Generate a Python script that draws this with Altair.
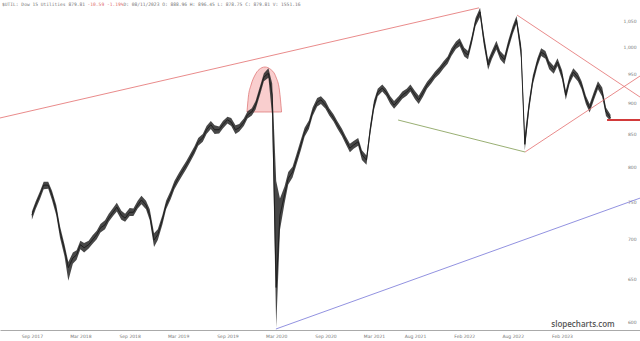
import altair as alt
import pandas as pd

# ---- price series (semi-monthly readings: close, high, low) ----
start_date = "2017-09-01"
close = [
    732, 746, 760, 774, 774, 760, 739, 710, 686, 664,
    676, 680, 693, 689, 693, 699, 706, 715, 719, 728,
    736, 743, 732, 728, 736, 736, 746, 753, 746, 732,
    699, 706, 726, 746, 760, 774, 784, 793, 804, 814,
    826, 839, 845, 858, 866, 858, 858, 866, 874, 870,
    858, 861, 870, 882, 887, 898, 924, 946, 953, 915,
    640, 732, 760, 784, 793, 811, 834, 854, 866, 887,
    903, 907, 898, 887, 877, 866, 854, 842, 829, 834,
    839, 819, 811, 858, 898, 920, 927, 920, 907, 898,
    907, 915, 920, 927, 915, 907, 920, 932, 941, 950,
    959, 968, 977, 991, 1004, 1010, 991, 986, 1014, 1048,
    1068, 1014, 968, 986, 1004, 986, 977, 1004, 1033, 1052,
    995, 835, 898, 941, 973, 991, 986, 968, 959, 973,
    950, 915, 941, 955, 946, 932, 907, 893, 915, 932,
    920, 887, 877,
]
high = [
    737, 751, 765, 779, 779, 766, 746, 717, 693, 671,
    683, 686, 698, 695, 698, 705, 711, 720, 725, 734,
    742, 749, 738, 734, 742, 741, 752, 759, 752, 740,
    708, 713, 732, 752, 766, 780, 790, 799, 810, 820,
    832, 845, 851, 864, 872, 865, 863, 872, 879, 877,
    865, 867, 876, 888, 893, 905, 931, 953, 962, 935,
    780, 755, 772, 793, 801, 819, 842, 861, 873, 894,
    910, 913, 905, 893, 883, 872, 860, 848, 836, 840,
    845, 826, 818, 866, 906, 926, 933, 926, 913, 905,
    913, 921, 926, 933, 922, 914, 927, 938, 947, 956,
    965, 974, 983, 998, 1011, 1017, 999, 993, 1021, 1056,
    1076, 1025, 977, 993, 1012, 993, 985, 1012, 1041, 1060,
    1005, 850, 907, 949, 980, 998, 993, 975, 966, 980,
    958, 923, 948, 962, 953, 939, 914, 900, 922, 939,
    928, 894, 882,
]
low = [
    726, 740, 754, 768, 769, 753, 732, 702, 678, 648,
    669, 674, 687, 683, 688, 694, 700, 709, 713, 723,
    731, 737, 726, 723, 731, 731, 741, 747, 740, 725,
    690, 699, 719, 740, 754, 768, 778, 787, 798, 808,
    820, 833, 839, 851, 859, 851, 852, 860, 868, 864,
    851, 855, 864, 876, 881, 891, 916, 939, 945, 880,
    594, 712, 748, 775, 785, 803, 826, 847, 859, 880,
    896, 900, 892, 881, 871, 860, 848, 836, 823, 828,
    833, 811, 804, 850, 890, 913, 921, 914, 900, 892,
    901, 909, 914, 921, 908, 900, 913, 926, 935, 944,
    952, 961, 970, 984, 997, 1002, 983, 978, 1006, 1040,
    1058, 1004, 959, 978, 996, 978, 969, 996, 1025, 1044,
    980, 826, 889, 933, 965, 984, 979, 960, 952, 966,
    942, 907, 934, 948, 939, 925, 900, 886, 908, 925,
    912, 880, 872,
]
dates = pd.date_range(start_date, periods=len(close), freq="SMS").strftime("%Y-%m-%d")

# ---- trend lines (start/end date and price) ----
red_top_dates, red_top_prices = ["2017-05-05", "2022-03-28"], [876.9, 1076]
red_down_dates, red_down_prices = ["2022-08-17", "2023-11-19"], [1061.7, 911.7]
red_up_dates, red_up_prices = ["2022-09-16", "2023-11-19"], [823.2, 948]
green_dates, green_prices = ["2021-05-30", "2022-09-16"], [873.6, 823.2]
blue_dates, blue_prices = ["2020-02-29", "2023-11-19"], [592.5, 755.6]
support_dates, support_prices = ["2023-07-19", "2023-11-19"], [873.6, 873.6]

# ---- highlighted top (arch outline) ----
arch_dates = ["2019-11-13", "2019-11-18", "2019-11-28", "2019-12-13", "2019-12-28",
              "2020-01-19", "2020-02-10", "2020-02-29", "2020-03-13", "2020-03-21"]
arch_top = [886.7, 911.7, 932.2, 949.7, 959.5, 964, 959.5, 946.3, 923.6, 886.7]
arch_base = [886.7] * len(arch_dates)

# ---- axes ----
y_ticks = [600, 650, 700, 750, 800, 850, 900, 950, 1000, 1050]
x_tick_months = [(2017, 9), (2018, 3), (2018, 9), (2019, 3), (2019, 9), (2020, 3),
                 (2020, 9), (2021, 3), (2021, 8), (2022, 2), (2022, 8), (2023, 2)]
y_domain = [591.4, 1091.8]

header_parts = [
    ("$UTIL: Dow 15 Utilities 879.81 ", "#777777"),
    ("-10.59 -1.19%", "#e07070"),
    (" D: 08/11/2023 O:   888.96 H:   896.45 L:   878.75 C:   879.81 V:  1551.16", "#777777"),
]

x_scale = alt.Scale(
    type="utc",
    domain=[alt.DateTime(year=2017, month=5, date=5, utc=True),
            alt.DateTime(year=2023, month=11, date=19, utc=True)],
)
y_scale = alt.Scale(type="log", domain=y_domain, nice=False)

x_axis = alt.Axis(
    values=[alt.DateTime(year=y, month=m, date=1, utc=True) for y, m in x_tick_months],
    labelExpr="utcFormat(datum.value, '%b %Y')",
    ticks=False, grid=False, title=None,
    domainColor="#aaaaaa", domainWidth=1,
    labelFontSize=4.5, labelColor="#777777", labelPadding=3,
    labelFont="DejaVu Sans",
)
y_axis = alt.Axis(
    orient="right", values=y_ticks, ticks=False, domain=False, grid=False, title=None,
    labelAlign="right", labelPadding=-4, labelFontSize=4.5, labelColor="#777777",
    labelFont="DejaVu Sans",
)

X = alt.X("date:T", scale=x_scale, axis=x_axis)
Y = alt.Y("price:Q", scale=y_scale, axis=y_axis)

price_df = pd.DataFrame({"date": dates, "price": close, "high": high, "low": low})
band = alt.Chart(price_df).mark_area(color="#333333", opacity=0.9).encode(
    x=X, y=alt.Y("low:Q", scale=y_scale, axis=y_axis), y2="high:Q",
)
price = alt.Chart(price_df).mark_line(color="#1a1a1a", strokeWidth=0.9).encode(x=X, y=Y)

arch_df = pd.DataFrame({"date": arch_dates, "price": arch_top, "base": arch_base})
arch = alt.Chart(arch_df).mark_area(
    interpolate="monotone", color="#f4a6a6", fillOpacity=0.55,
    stroke="#e07a7a", strokeWidth=0.8,
).encode(x=X, y=Y, y2="base:Q")


def seg(ds, ps, color, width):
    df = pd.DataFrame({"date": ds, "price": ps})
    return alt.Chart(df).mark_line(color=color, strokeWidth=width).encode(x=X, y=Y)


lines = [
    seg(red_top_dates, red_top_prices, "#e36d6d", 0.8),
    seg(red_down_dates, red_down_prices, "#e36d6d", 0.8),
    seg(red_up_dates, red_up_prices, "#e36d6d", 0.8),
    seg(green_dates, green_prices, "#7f9a4f", 0.8),
    seg(blue_dates, blue_prices, "#7676d8", 0.8),
    seg(support_dates, support_prices, "#d23a3a", 2),
]

texts = []
char_w = 2.76
offset = 0
for txt, col in header_parts:
    texts.append(
        alt.Chart(pd.DataFrame({"t": [txt]})).mark_text(
            align="left", baseline="middle", fontSize=4.6, font="DejaVu Sans Mono",
            color=col,
        ).encode(text="t:N", x=alt.value(2 + offset * char_w), y=alt.value(5))
    )
    offset += len(txt)

watermark = alt.Chart(pd.DataFrame({"t": ["slopecharts.com"]})).mark_text(
    align="center", baseline="middle", fontSize=8, font="Open Sans", fontWeight=600,
    color="#555555",
).encode(text="t:N", x=alt.value(583), y=alt.value(325))

chart = alt.layer(arch, band, price, *lines, *texts, watermark).properties(
    width=640, height=330,
    autosize=alt.AutoSizeParams(type="none"),
    padding={"left": 0, "right": 0, "top": 0, "bottom": 11},
    background="white",
).configure_view(stroke=None)

chart.save("out.html", embed_options={"renderer": "svg", "actions": False})
